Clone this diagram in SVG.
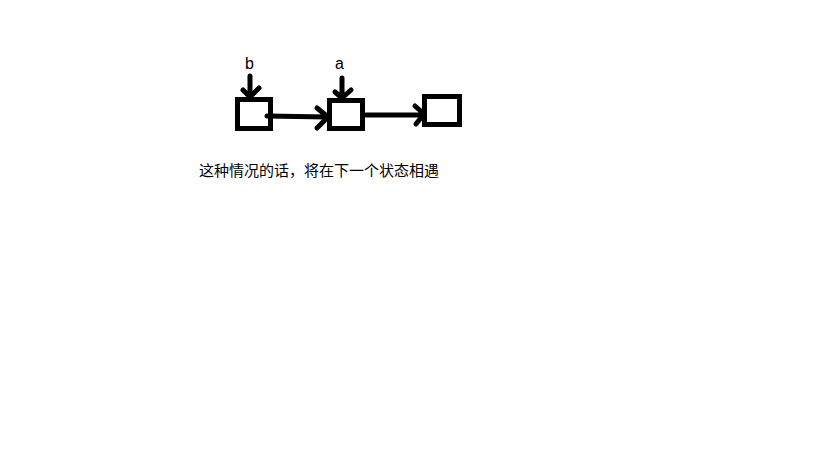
<svg xmlns="http://www.w3.org/2000/svg" width="819" height="460" viewBox="0 0 819 460">
<style>
.box{fill:#fff;stroke:#000;stroke-width:5}
.ln{fill:none;stroke:#000;stroke-width:5;stroke-linecap:round;stroke-linejoin:round}
.lbl{font-family:"Liberation Sans","Noto Sans",sans-serif;font-size:16px;fill:#000}
.cap{font-family:"Noto Sans CJK SC",sans-serif;font-size:15px;fill:#000}
</style>
<rect width="819" height="460" fill="#fff"/>
<g id="node1"><rect class="box" x="237.5" y="99.5" width="33" height="29"/></g>
<g id="node2"><rect class="box" x="329.5" y="100.5" width="33" height="28"/></g>
<g id="node3"><rect class="box" x="424.5" y="96.5" width="35" height="28"/></g>
<g id="connectors">
<path class="ln" d="M267 116 L327 117 M317 108 L328 117 L317 128"/>
<path class="ln" d="M366 115 L424 115 M415 106 L424 114 L416 124"/>
<path class="ln" d="M250 76 L250 97 M243 90 L250 97 L259 88"/>
<path class="ln" d="M342 78 L342 98 M335 92 L342 98 L351 90"/>
</g>
<g id="labels">
<text class="lbl" x="245" y="69">b</text>
<text class="lbl" x="335" y="69">a</text>
<text class="cap" x="199" y="176">这种情况的话，将在下一个状态相遇</text>
</g>
</svg>
